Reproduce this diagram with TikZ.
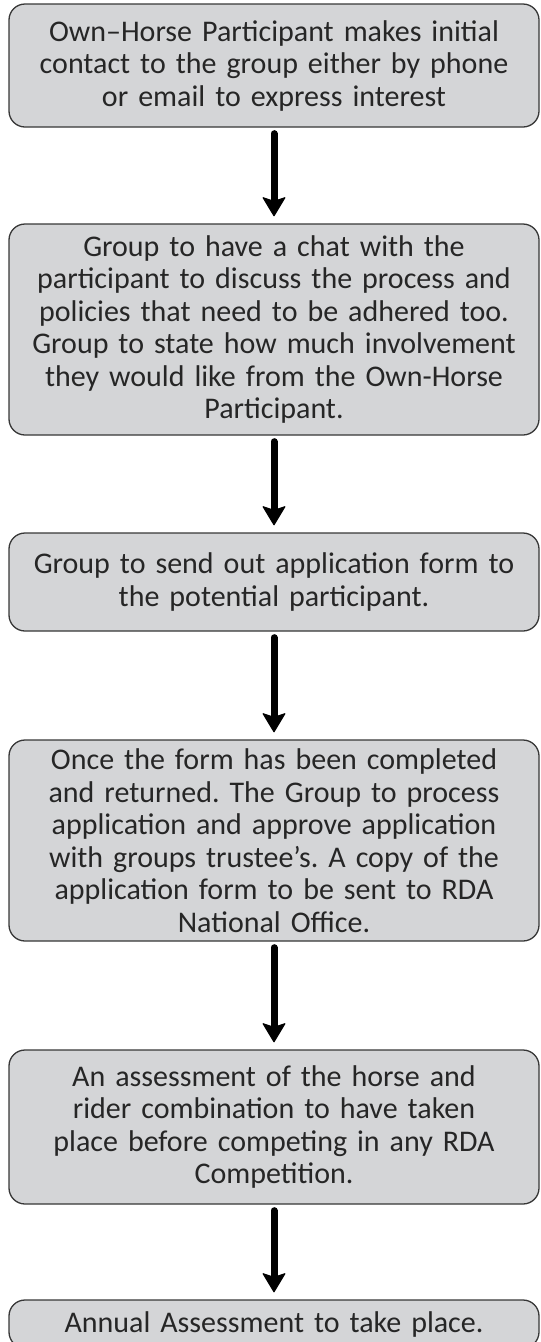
\documentclass[tikz,border=0pt]{standalone}
\usepackage{fontspec}
\setmainfont{Carlito}
\usetikzlibrary{arrows.meta}
\definecolor{boxgray}{RGB}{212,213,215}
\definecolor{edgegray}{RGB}{55,55,55}
\definecolor{textgray}{RGB}{38,38,38}
\frenchspacing

\begin{document}
\begin{tikzpicture}[x=1pt,y=1pt,
  stagebox/.style={draw=edgegray,line width=1.3pt,fill=boxgray,rounded corners=16pt,
    minimum width=530pt,text width=510pt,align=center,text=textgray,
    font=\fontsize{30}{32.5}\selectfont},
  flowarrow/.style={line width=7pt,line cap=round,
    -{Stealth[length=20pt,width=24pt,inset=4pt,round,line width=1pt]},
    shorten <=6pt,shorten >=7pt}]
\useasboundingbox (0,0) rectangle (541,-1342);

% Boxes
\node[stagebox,minimum height=123pt] (contact) at (274,-65.5)
  {Own–Horse Participant makes initial\\contact to the group either by phone\\or email to express interest};
\node[stagebox,minimum height=211pt] (chat) at (274,-329.5)
  {Group to have a chat with the\\participant to discuss the process and\\policies that need to be adhered too.\\Group to state how much involvement\\they would like from the Own-Horse\\Participant.};
\node[stagebox,minimum height=98pt] (form) at (274,-582)
  {Group to send out application form to\\the potential participant.};
\node[stagebox,minimum height=201pt] (approve) at (274,-840.5)
  {Once the form has been completed\\and returned. The Group to process\\application and approve application\\with groups trustee’s. A copy of the\\application form to be sent to RDA\\National Office.};
\node[stagebox,minimum height=154pt] (assess) at (274,-1127)
  {An assessment of the horse and\\rider combination to have taken\\place before competing in any RDA\\Competition.};
\node[stagebox,minimum height=48pt] (annual) at (274,-1324)
  {Annual Assessment to take place.};

% Arrows
\draw[flowarrow] (contact) -- (chat);
\draw[flowarrow] (chat) -- (form);
\draw[flowarrow] (form) -- (approve);
\draw[flowarrow] (approve) -- (assess);
\draw[flowarrow] (assess) -- (annual);
\end{tikzpicture}
\end{document}
